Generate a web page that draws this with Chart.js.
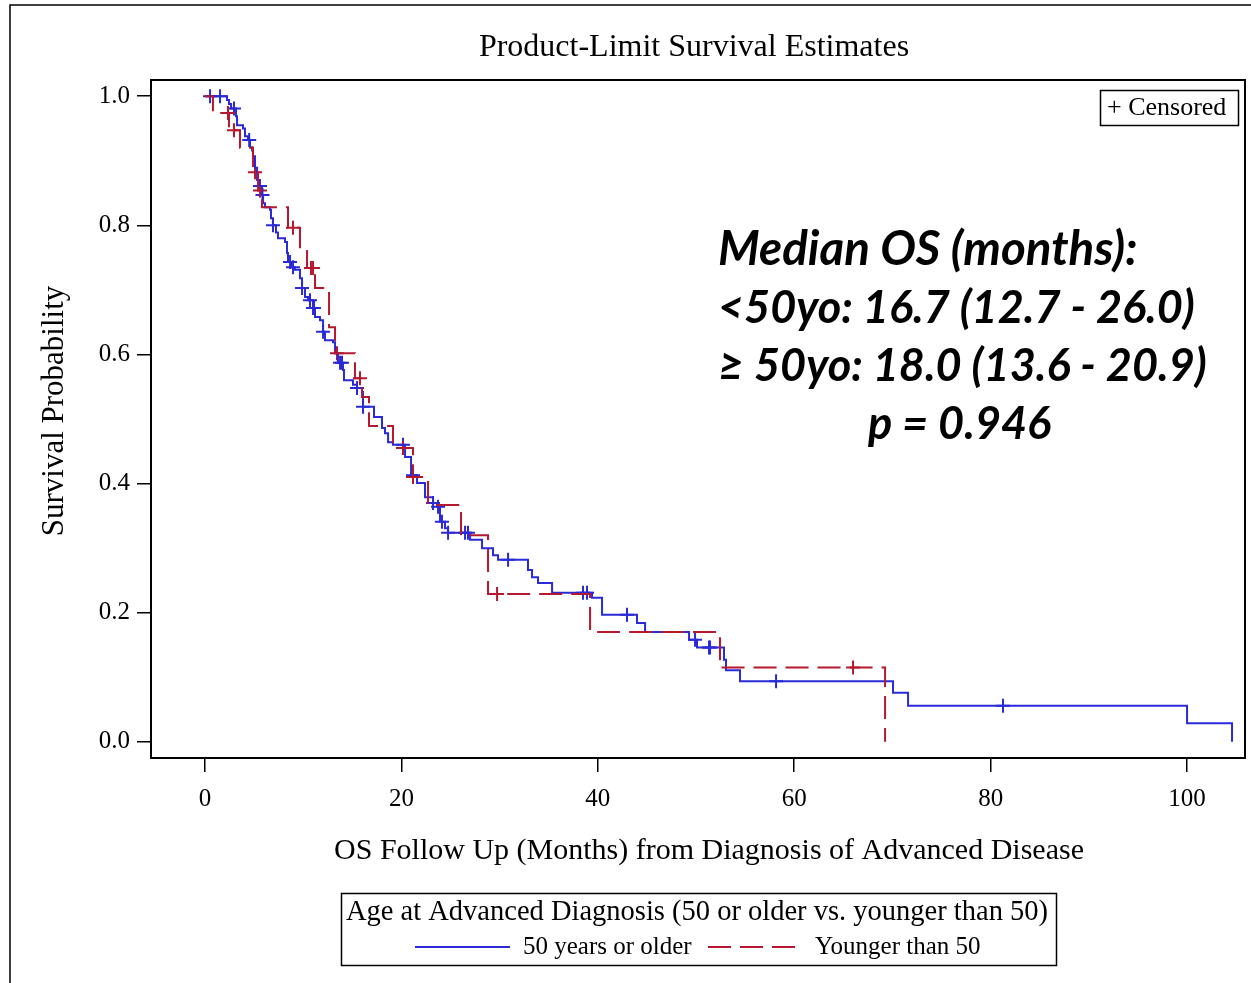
<!DOCTYPE html>
<html>
<head>
<meta charset="utf-8">
<script src="https://cdn.jsdelivr.net/npm/chart.js@4.4.1/dist/chart.umd.min.js"></script>
<style>
  html, body { margin: 0; padding: 0; background: #fff; }
  canvas { display: block; }
</style>
</head>
<body>
<canvas id="km" width="1251" height="983"></canvas>
<script>
// 50 years or older: event times (months) and survival just after each event
const olderTimes = [2.24, 2.44, 2.65, 3.16, 3.26, 3.87, 4.07, 4.38, 4.58, 4.79, 4.89, 5.09, 5.30, 5.50,
  5.80, 5.91, 6.11, 6.62, 6.72, 6.92, 7.23, 7.43, 8.15, 8.35, 8.45, 8.86, 9.16, 9.67, 9.88, 10.18,
  10.49, 11.00, 11.20, 11.71, 12.02, 12.22, 13.03, 13.24, 13.54, 14.05, 14.15, 15.07, 15.48, 15.99,
  16.09, 17.21, 18.02, 18.33, 18.64, 19.14, 20.37, 20.98, 21.59, 22.40, 23.22, 23.63, 23.93, 24.44,
  24.75, 26.99, 28.21, 29.33, 29.84, 32.89, 33.30, 33.91, 35.34, 39.41, 40.43, 43.99, 44.81, 49.29,
  50.10, 52.85, 53.05, 54.48, 70.06, 71.59, 100.0, 104.58]
const olderSurv = [0.994, 0.988, 0.981, 0.969, 0.955, 0.950, 0.938, 0.932, 0.921, 0.916, 0.907, 0.889, 0.870, 0.861,
  0.847, 0.834, 0.828, 0.824, 0.811, 0.800, 0.789, 0.780, 0.774, 0.757, 0.743, 0.735, 0.731, 0.718, 0.703, 0.689,
  0.684, 0.672, 0.658, 0.653, 0.635, 0.622, 0.619, 0.602, 0.587, 0.576, 0.560, 0.553, 0.548, 0.542,
  0.519, 0.503, 0.486, 0.478, 0.464, 0.460, 0.441, 0.413, 0.401, 0.379, 0.370, 0.364, 0.341, 0.331,
  0.324, 0.313, 0.300, 0.289, 0.282, 0.266, 0.255, 0.246, 0.231, 0.223, 0.197, 0.184, 0.170, 0.158,
  0.146, 0.127, 0.111, 0.094, 0.076, 0.056, 0.029, 0.0]
const olderCensored = [0.51, 1.53, 2.95, 4.50, 5.60, 5.85, 6.92, 8.66, 8.96, 9.88, 10.69, 11.00, 11.10,
  12.02, 13.75, 13.95, 15.48, 16.09, 20.16, 21.18, 23.22, 23.73, 24.13, 24.75, 26.48, 26.78, 30.86,
  38.49, 38.90, 42.97, 49.90, 51.32, 51.43, 58.15, 81.26]

// Younger than 50
const youngerTimes = [0.81, 2.44, 3.56, 4.89, 5.40, 5.80, 8.45, 9.67, 10.39, 11.20, 12.63, 13.24, 15.27,
  15.99, 16.70, 19.14, 21.18, 22.71, 26.07, 28.82, 39.21, 52.44, 69.25]
const youngerSurv = [0.974, 0.947, 0.920, 0.882, 0.854, 0.828, 0.796, 0.766, 0.734, 0.703, 0.642, 0.602, 0.563,
  0.534, 0.489, 0.455, 0.410, 0.367, 0.320, 0.229, 0.170, 0.115, 0.0]
const youngerCensored = [2.34, 2.95, 5.09, 5.60, 8.96, 10.79, 11.00, 13.44, 15.78, 20.16, 21.18, 29.74, 65.99]

const xTicks = [0, 20, 40, 60, 80, 100]
const yTicks = [0.0, 0.2, 0.4, 0.6, 0.8, 1.0]
const notes = ['Median OS (months):', '<50yo: 16.7 (12.7 - 26.0)', '\u2265 50yo: 18.0 (13.6 - 20.9)', 'p = 0.946']

const BLUE = '#2a2ad8'
const RED = '#b5182f'
const SERIF = '"Liberation Serif", "Times New Roman", serif'

function stepPoints(times, surv) {
  const pts = [{x: 0, y: 1}]
  times.forEach((t, i) => pts.push({x: t, y: surv[i]}))
  return pts
}

function survAt(times, surv, t) {
  let s = 1
  for (let i = 0; i < times.length; i++) {
    if (times[i] <= t) s = surv[i]
  }
  return s
}

function censorPoints(cens, times, surv) {
  return cens.map(t => ({x: t, y: survAt(times, surv, t)}))
}

const decorations = {
  id: 'decorations',
  afterDatasetsDraw(chart) {
    const c = chart.ctx
    const a = chart.chartArea
    c.save()
    c.strokeStyle = '#000'
    c.lineWidth = 2
    c.strokeRect(a.left, a.top, a.right - a.left, a.bottom - a.top)
    c.restore()
  },
  afterDraw(chart) {
    const c = chart.ctx
    c.save()
    c.fillStyle = '#000'
    c.strokeStyle = '#000'

    // outer frame
    c.lineWidth = 1.5
    c.beginPath()
    c.moveTo(10, 983)
    c.lineTo(10, 5)
    c.lineTo(1251, 5)
    c.stroke()

    // title
    c.font = '32px ' + SERIF
    c.textAlign = 'center'
    c.textBaseline = 'middle'
    c.fillText('Product-Limit Survival Estimates', 694, 48)

    // axis titles
    c.font = '30px ' + SERIF
    c.fillText('OS Follow Up (Months) from Diagnosis of Advanced Disease', 709, 851)
    c.save()
    c.translate(55, 411)
    c.rotate(-Math.PI / 2)
    c.font = '31px ' + SERIF
    c.fillText('Survival Probability', 0, 0)
    c.restore()

    // censored key
    c.lineWidth = 1.5
    c.strokeRect(1100.5, 90.5, 138, 35)
    c.font = '26px ' + SERIF
    c.textAlign = 'left'
    c.fillText('+ Censored', 1107, 108)

    // median annotation
    c.font = 'italic bold 47.5px Lato, "Open Sans", sans-serif'
    c.textBaseline = 'middle'
    c.fillText(notes[0], 718, 250)
    c.font = 'italic bold 45px Lato, "Open Sans", sans-serif'
    c.fillText(notes[1], 718, 308)
    c.fillText(notes[2], 718, 366)
    c.fillText(notes[3], 868, 424)

    // legend box
    c.lineWidth = 1.5
    c.strokeRect(341.5, 893.5, 715, 72)
    c.font = '28.5px ' + SERIF
    c.textAlign = 'center'
    c.fillText('Age at Advanced Diagnosis (50 or older vs. younger than 50)', 697, 913)
    c.lineWidth = 2
    c.strokeStyle = BLUE
    c.beginPath(); c.moveTo(415, 947); c.lineTo(510, 947); c.stroke()
    c.strokeStyle = RED
    c.setLineDash([23, 9])
    c.beginPath(); c.moveTo(708, 947); c.lineTo(797, 947); c.stroke()
    c.setLineDash([])
    c.font = '25px ' + SERIF
    c.textAlign = 'left'
    c.fillText(chart.data.datasets[1].label, 523, 947)
    c.fillText(chart.data.datasets[0].label, 815, 947)
    c.restore()
  }
}

const ctx = document.getElementById('km')
new Chart(ctx, {
  type: 'line',
  data: {
    datasets: [
      {
        label: 'Younger than 50',
        data: stepPoints(youngerTimes, youngerSurv),
        borderColor: RED,
        borderWidth: 2,
        borderDash: [23, 9],
        stepped: 'before',
        pointRadius: 0,
        fill: false
      },
      {
        label: '50 years or older',
        data: stepPoints(olderTimes, olderSurv),
        borderColor: BLUE,
        borderWidth: 2,
        stepped: 'before',
        pointRadius: 0,
        fill: false
      },
      {
        label: 'younger censored',
        type: 'scatter',
        data: censorPoints(youngerCensored, youngerTimes, youngerSurv),
        pointStyle: 'cross',
        pointRadius: 7,
        borderColor: RED,
        borderWidth: 2,
        showLine: false
      },
      {
        label: 'older censored',
        type: 'scatter',
        data: censorPoints(olderCensored, olderTimes, olderSurv),
        pointStyle: 'cross',
        pointRadius: 7,
        borderColor: BLUE,
        borderWidth: 2,
        showLine: false
      }
    ]
  },
  options: {
    responsive: false,
    animation: false,
    devicePixelRatio: 1,
    layout: { autoPadding: false, padding: { left: 30, top: 80, right: 6, bottom: 115 } },
    plugins: {
      legend: { display: false },
      tooltip: { enabled: false },
      title: { display: false }
    },
    scales: {
      x: {
        type: 'linear',
        min: -5.5,
        max: 105.9,
        afterBuildTicks: s => { s.ticks = xTicks.map(v => ({value: v})) },
        afterFit: s => { s.height = 110 },
        ticks: {
          autoSkip: false,
          maxRotation: 0,
          padding: 12,
          color: '#000',
          font: { family: SERIF, size: 25 },
          callback: v => String(v)
        },
        grid: { drawOnChartArea: false, drawTicks: true, tickLength: 14, color: '#000', lineWidth: 1.5 },
        border: { display: true, color: '#000', width: 2 }
      },
      y: {
        type: 'linear',
        min: -0.025,
        max: 1.025,
        afterBuildTicks: s => { s.ticks = yTicks.map(v => ({value: v})) },
        afterFit: s => { s.width = 121 },
        ticks: {
          autoSkip: false,
          padding: 7,
          color: '#000',
          font: { family: SERIF, size: 25 },
          callback: v => v.toFixed(1)
        },
        grid: { drawOnChartArea: false, drawTicks: true, tickLength: 14, color: '#000', lineWidth: 1.5 },
        border: { display: true, color: '#000', width: 2 }
      }
    }
  },
  plugins: [decorations]
})
</script>
</body>
</html>
